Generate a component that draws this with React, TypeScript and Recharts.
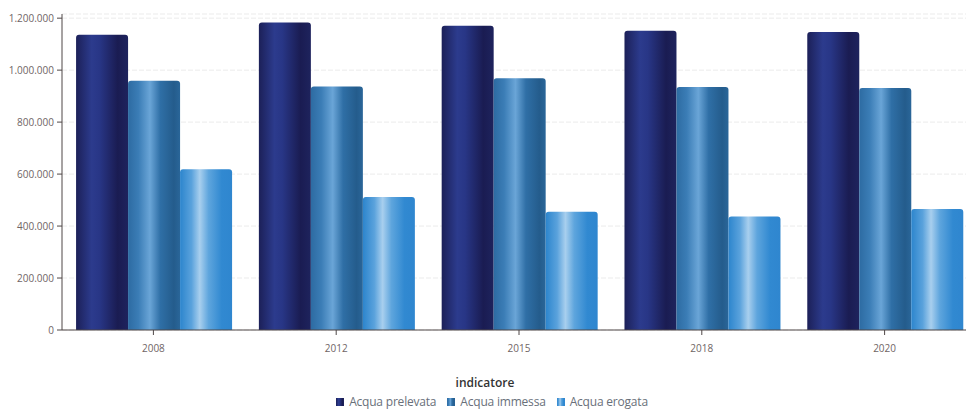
import {
    BarChart,
    Bar,
    XAxis,
    YAxis,
    CartesianGrid,
    Legend,
} from "recharts";

const years = ["2008", "2012", "2015", "2018", "2020"];
const prelevata = [1136000, 1183000, 1171000, 1152000, 1147000];
const immessa = [959000, 937000, 969000, 935000, 931000];
const erogata = [619000, 512000, 455000, 437000, 466000];
const yTicks = [0, 200000, 400000, 600000, 800000, 1000000, 1200000];

const seriesNames = ["Acqua prelevata", "Acqua immessa", "Acqua erogata"];
const seriesKeys = ["prelevata", "immessa", "erogata"];

const data = years.map((year, i) => ({
    year,
    prelevata: prelevata[i],
    immessa: immessa[i],
    erogata: erogata[i],
}));

const FONT = "'Open Sans', sans-serif";

// thousands separator with dots, like "1.200.000"
const formatIt = (v: number) =>
    String(v).replace(/\B(?=(\d{3})+(?!\d))/g, ".");

const Gradients = () => (
    <defs>
        <linearGradient id="gradPrelevata" x1="0" y1="0" x2="1" y2="0">
            <stop offset="0%" stopColor="#1c2058" />
            <stop offset="30%" stopColor="#2c3b8d" />
            <stop offset="45%" stopColor="#283686" />
            <stop offset="80%" stopColor="#1a1c52" />
            <stop offset="100%" stopColor="#1e235d" />
        </linearGradient>
        <linearGradient id="gradImmessa" x1="0" y1="0" x2="1" y2="0">
            <stop offset="0%" stopColor="#2d6ba2" />
            <stop offset="20%" stopColor="#3b7db6" />
            <stop offset="42%" stopColor="#6aa5d7" />
            <stop offset="62%" stopColor="#2f6fa6" />
            <stop offset="88%" stopColor="#245c8c" />
            <stop offset="100%" stopColor="#2a6699" />
        </linearGradient>
        <linearGradient id="gradErogata" x1="0" y1="0" x2="1" y2="0">
            <stop offset="0%" stopColor="#2c85cd" />
            <stop offset="22%" stopColor="#5aa2dc" />
            <stop offset="38%" stopColor="#a8cfee" />
            <stop offset="55%" stopColor="#5ea5dd" />
            <stop offset="80%" stopColor="#3189d1" />
            <stop offset="100%" stopColor="#2f86cf" />
        </linearGradient>
    </defs>
);

const fills = ["url(#gradPrelevata)", "url(#gradImmessa)", "url(#gradErogata)"];

const LegendContent = () => (
    <div
        style={{
            fontFamily: FONT,
            textAlign: "center",
            paddingTop: 15,
            paddingLeft: 8,
        }}
    >
        <div
            style={{
                fontSize: 12,
                fontWeight: 600,
                color: "#333",
                lineHeight: "16px",
                marginLeft: -14,
            }}
        >
            indicatore
        </div>
        <div
            style={{
                display: "flex",
                justifyContent: "center",
                gap: 11,
                fontSize: 12,
                letterSpacing: -0.2,
                color: "#69707a",
                lineHeight: "18px",
                marginTop: 2,
            }}
        >
            {seriesNames.map((name, i) => (
                <span
                    key={name}
                    style={{ display: "flex", alignItems: "center", gap: 5 }}
                >
                    <svg width={8} height={8}>
                        <Gradients />
                        <rect width={8} height={8} fill={fills[i]} />
                    </svg>
                    {name}
                </span>
            ))}
        </div>
    </div>
);

export default function App() {
    return (
        <div
            style={{
                position: "fixed",
                left: 0,
                top: 0,
                width: 966,
                height: 414,
                overflow: "hidden",
                background: "#fff",
            }}
        >
            <BarChart
                width={976}
                height={414}
                data={data}
                margin={{ top: 14, right: 0, left: 0, bottom: 0 }}
                barCategoryGap="7.7%"
                barGap={0}
            >
                <Gradients />
                <CartesianGrid
                    vertical={false}
                    stroke="#ebebeb"
                    strokeDasharray="5 2"
                />
                <XAxis
                    dataKey="year"
                    height={30}
                    axisLine={{ stroke: "#4f4747" }}
                    tickLine={{ stroke: "#4f4747" }}
                    tickSize={5}
                    tickMargin={10}
                    tick={{ fill: "#6f6565", fontSize: 10, fontFamily: FONT }}
                />
                <YAxis
                    width={62}
                    type="number"
                    domain={[0, 1216000]}
                    ticks={yTicks}
                    tickFormatter={formatIt}
                    axisLine={{ stroke: "#4f4747" }}
                    tickLine={{ stroke: "#4f4747" }}
                    tickSize={5}
                    tickMargin={3}
                    tick={{ fill: "#6f6565", fontSize: 10, fontFamily: FONT }}
                />
                <Legend
                    verticalAlign="bottom"
                    height={54}
                    content={<LegendContent />}
                />
                {seriesKeys.map((key, i) => (
                    <Bar
                        key={key}
                        dataKey={key}
                        name={seriesNames[i]}
                        fill={fills[i]}
                        radius={[3, 3, 0, 0]}
                        isAnimationActive={false}
                    />
                ))}
            </BarChart>
        </div>
    );
}
